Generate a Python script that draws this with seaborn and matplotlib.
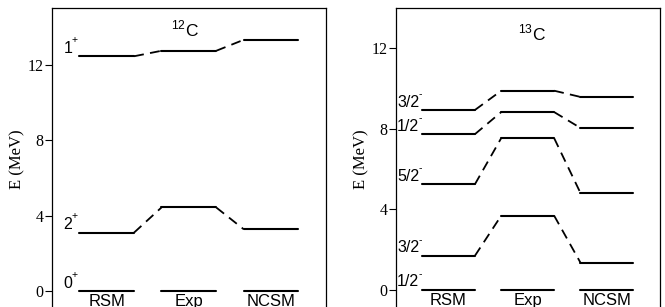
import numpy as np
import pandas as pd
import seaborn as sns
import matplotlib.pyplot as plt

sns.set_theme(style="ticks")
plt.rcParams['font.family'] = ['Liberation Sans', 'DejaVu Sans']
plt.rcParams['mathtext.fontset'] = 'custom'
plt.rcParams['mathtext.rm'] = 'Liberation Sans'
for k in ['text.color', 'axes.labelcolor', 'xtick.color', 'ytick.color', 'axes.edgecolor']:
    plt.rcParams[k] = 'black'

# calculations / experiment columns
models = ['RSM', 'Exp', 'NCSM']

# 12C levels (MeV)
c12_spins = ['0', '2', '1']
c12_par = ['+', '+', '+']
c12_rsm = [0.0, 3.10, 12.44]
c12_exp = [0.0, 4.43, 12.73]
c12_ncsm = [0.0, 3.28, 13.31]

# 13C levels (MeV)
c13_spins = ['1/2', '3/2', '5/2', '1/2', '3/2']
c13_par = ['-', '-', '-', '-', '-']
c13_rsm = [0.0, 1.69, 5.24, 7.73, 8.93]
c13_exp = [0.0, 3.69, 7.54, 8.83, 9.89]
c13_ncsm = [0.0, 1.35, 4.81, 8.04, 9.58]

xcol = [(1.0, 3.0), (4.0, 6.0), (7.0, 9.0)]
# room left for the parity sign (points)
par_w = {'+': 4.8, '-': 1.8}


def segments(rsm, exp, ncsm):
    solid, dash = [], []
    for i, levels in enumerate(zip(rsm, exp, ncsm)):
        for k, e in enumerate(levels):
            for x in xcol[k]:
                solid.append((f'{i}-{k}', x, e))
            # ground states are not joined
            if k < 2 and i > 0:
                dash.append((f'{i}-{k}', xcol[k][1], e))
                dash.append((f'{i}-{k}', xcol[k + 1][0], levels[k + 1]))
    s = pd.DataFrame(solid, columns=['seg', 'x', 'E'])
    d = pd.DataFrame(dash, columns=['seg', 'x', 'E'])
    return s, d


def draw(ax, rsm, exp, ncsm, spins, par, ytop, ticks, title, tpos, labx):
    s, d = segments(rsm, exp, ncsm)
    sns.lineplot(data=s, x='x', y='E', units='seg', estimator=None, color='black',
                 lw=1.5, ax=ax, sort=False)
    sns.lineplot(data=d, x='x', y='E', units='seg', estimator=None, color='black',
                 lw=1.3, ax=ax, sort=False, linestyle=(0, (5.5, 3.5)))
    for sp, p, e in zip(spins, par, rsm):
        w = par_w[p]
        ax.annotate(sp, (1.0, e), xytext=(-w - 0.3, 0.3), textcoords='offset points',
                    ha='right', va='bottom', fontsize=11.5)
        ax.annotate(p, (1.0, e), xytext=(-w - 0.6, 8.0), textcoords='offset points',
                    ha='left', va='bottom', fontsize=7.5)
    for m, (x0, x1) in zip(models, xcol):
        ax.annotate(m, ((x0 + x1) / 2, 0), xytext=(0, -10.8), textcoords='offset points',
                    ha='center', va='baseline', fontsize=12)
    ax.text(tpos[0], tpos[1], title, ha='center', va='center', fontsize=12.5)
    ax.set_xlim(0, 10.0)
    ax.set_ylim(-1, ytop)
    ax.set_xticks([])
    ax.set_yticks(ticks)
    ax.set_yticklabels([str(t) for t in ticks], family='Liberation Serif', fontsize=11.5)
    ax.tick_params(axis='y', direction='out', length=5, width=0.8, pad=1)
    ax.set_xlabel('')
    ax.set_ylabel('E (MeV)', family='Liberation Serif', fontsize=12)
    ax.yaxis.set_label_coords(labx, 0.5)
    for sp in ax.spines.values():
        sp.set_linewidth(0.9)


fig = plt.figure(figsize=(6.65, 3.07), dpi=100)
ax1 = fig.add_axes([0.078, -0.0098, 0.412, 0.984])
ax2 = fig.add_axes([0.595, -0.0098, 0.397, 0.984])

draw(ax1, c12_rsm, c12_exp, c12_ncsm, c12_spins, c12_par, 15.0, [0, 4, 8, 12],
     '$^{12}$C', (4.85, 13.86), -0.095)
draw(ax2, c13_rsm, c13_exp, c13_ncsm, c13_spins, c13_par, 14.0, [0, 4, 8, 12],
     '$^{13}$C', (5.15, 12.75), -0.098)

fig.savefig('out.png', dpi=100)
